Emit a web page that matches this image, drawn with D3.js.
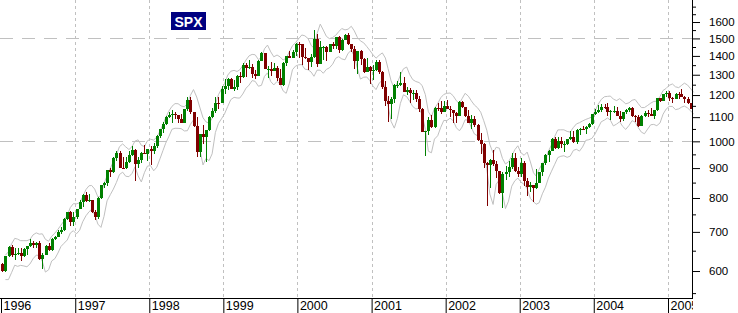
<!DOCTYPE html>
<html>
<head>
<meta charset="utf-8">
<script src="https://cdn.jsdelivr.net/npm/d3@7"></script>
<style>
  body { margin: 0; background: #fff; }
  svg { display: block; }
  text { font-family: Arial, "Liberation Sans", sans-serif; }
</style>
</head>
<body>
<div id="chart"></div>
<script>
// SPX, half-month bars (1st-15th, 16th-end), Jan 1996 .. Apr 2005
const opens = [
  616,599,636,660,640,641,645,637,654,662,669,665,671,630,640,662,652,681,687,701,705,737,757,728,
  741,766,786,811,791,793,757,743,801,841,848,893,885,936,954,901,899,923,947,966,914,928,955,953,
  970,961,980,1020,1049,1069,1102,1110,1112,1108,1091,1077,1134,1177,1121,1063,957,1029,1017,1047,1099,1125,1164,1162,
  1229,1243,1280,1230,1238,1294,1286,1349,1335,1338,1302,1294,1373,1418,1329,1330,1320,1336,1283,1248,1363,1397,1389,1421,
  1469,1465,1394,1388,1366,1392,1499,1357,1452,1452,1421,1466,1455,1509,1431,1491,1518,1466,1437,1374,1429,1383,1315,1340,
  1320,1326,1366,1316,1240,1173,1160,1183,1249,1249,1256,1215,1224,1208,1211,1182,1134,1039,1041,1089,1060,1142,1139,1124,
  1148,1138,1130,1116,1107,1166,1147,1103,1077,1091,1067,1007,990,918,912,930,916,889,815,881,886,905,936,890,
  880,919,856,834,841,833,848,885,917,946,964,1011,975,1000,990,990,1008,1019,996,1046,1051,1050,1058,1069,
  1112,1121,1131,1146,1145,1121,1126,1129,1107,1090,1121,1132,1141,1106,1102,1064,1104,1120,1115,1104,1130,1184,1174,1203,
  1212,1184,1181,1206,1204,1191,1181,1162
];
const highs = [
  620,637,661,664,657,656,657,656,663,680,674,673,676,644,666,670,683,690,706,714,738,758,761,757,
  767,794,812,818,814,795,764,803,842,852,894,899,940,961,961,939,941,961,983,970,942,960,986,972,
  980,995,1026,1051,1080,1106,1123,1130,1122,1110,1115,1138,1190,1191,1121,1101,1030,1066,1020,1106,1140,1193,1192,1245,
  1276,1283,1285,1272,1301,1316,1359,1360,1375,1356,1324,1377,1419,1418,1344,1365,1363,1345,1330,1365,1400,1430,1434,1474,
  1478,1465,1445,1390,1413,1553,1528,1482,1455,1455,1468,1480,1511,1517,1495,1525,1530,1470,1454,1430,1433,1389,1390,1344,
  1350,1375,1376,1320,1268,1197,1192,1253,1268,1316,1286,1240,1236,1222,1226,1194,1140,1041,1100,1110,1143,1163,1173,1173,
  1176,1148,1130,1124,1173,1173,1147,1130,1110,1107,1071,1035,994,923,932,965,925,891,885,907,925,954,954,903,
  935,926,864,852,842,896,885,919,950,965,1015,1016,1016,1016,1003,1011,1040,1040,1050,1054,1063,1063,1075,1112,
  1135,1155,1160,1158,1163,1130,1150,1147,1128,1123,1137,1146,1144,1110,1108,1110,1127,1130,1142,1132,1185,1188,1204,1217,
  1217,1190,1209,1213,1229,1196,1192,1163
];
const lows = [
  598,598,633,633,627,638,624,634,638,660,657,658,627,605,638,649,650,678,685,695,703,734,716,716,
  737,765,773,789,789,755,733,736,798,833,838,870,883,926,900,897,897,920,945,855,902,920,950,924,
  912,950,975,1015,1032,1067,1095,1076,1094,1074,1074,1076,1129,1114,1060,939,940,988,923,1040,1095,1117,1136,1161,
  1205,1225,1227,1219,1226,1258,1284,1289,1330,1282,1280,1291,1372,1328,1281,1294,1317,1268,1247,1244,1348,1386,1387,1400,
  1390,1350,1384,1325,1339,1390,1339,1357,1380,1374,1420,1440,1438,1415,1428,1488,1463,1420,1330,1305,1349,1308,1312,1254,
  1274,1318,1306,1228,1150,1081,1091,1163,1232,1245,1214,1200,1165,1178,1169,1124,1038,945,1026,1054,1054,1125,1114,1123,
  1136,1101,1074,1075,1106,1139,1102,1074,1048,1060,1000,952,900,775,833,907,866,813,769,860,868,897,887,870,
  870,840,806,820,789,830,847,874,911,922,962,972,972,976,960,985,1005,993,991,1026,1044,1031,1055,1066,
  1109,1118,1124,1137,1104,1087,1120,1107,1079,1082,1113,1124,1100,1078,1060,1064,1100,1101,1103,1090,1127,1168,1173,1193,
  1173,1163,1180,1180,1189,1164,1160,1137
];
const closes = [
  599,636,660,640,641,645,637,654,662,669,665,671,630,640,662,652,681,687,701,705,737,757,728,741,
  766,786,811,791,793,757,743,801,841,848,893,885,936,954,901,899,923,947,966,914,928,955,953,970,
  961,980,1020,1049,1069,1102,1110,1112,1108,1091,1077,1134,1177,1121,1063,957,1029,1017,1047,1099,1125,1164,1162,1229,
  1243,1280,1230,1238,1294,1286,1349,1335,1338,1302,1294,1373,1418,1329,1330,1320,1336,1283,1248,1363,1397,1389,1421,1469,
  1465,1394,1388,1366,1392,1499,1357,1452,1452,1421,1466,1455,1509,1431,1491,1518,1466,1437,1374,1429,1383,1315,1340,1320,
  1326,1366,1316,1240,1173,1160,1183,1249,1249,1256,1215,1224,1208,1211,1182,1134,1039,1041,1089,1060,1142,1139,1124,1148,
  1138,1130,1116,1107,1166,1147,1103,1077,1091,1067,1007,990,918,912,930,916,889,815,881,886,905,936,890,880,
  919,856,834,841,833,848,885,917,946,964,1011,975,1000,990,990,1008,1019,996,1046,1051,1050,1058,1069,1112,
  1121,1131,1146,1145,1121,1126,1129,1107,1090,1121,1132,1141,1106,1102,1064,1104,1120,1115,1104,1130,1184,1174,1203,1212,
  1184,1181,1206,1204,1191,1181,1162,1138
];

const years = [1996, 1997, 1998, 1999, 2000, 2001, 2002, 2003, 2004, 2005];
const priceLabels = [600, 700, 800, 900, 1000, 1100, 1200, 1300, 1400, 1500, 1600];
const minorTicks = [550, 650, 750, 850, 950, 1050, 1150, 1250, 1350, 1450, 1550, 1650, 1700];
const dashedLevels = [1000, 1500];
const title = "SPX";

const width = 738, height = 313;
const plotRight = 692, plotBottom = 298;

const svg = d3.select("#chart").append("svg")
    .attr("width", width)
    .attr("height", height);

const x = d3.scaleTime()
    .domain([new Date(1996, 0, 1), new Date(2005, 0, 1)])
    .range([1, 668]);

const y = d3.scaleLog()
    .domain([539.5, 1745])
    .range([plotBottom, 0]);

// bar centre: the middle of each half month
const bars = opens.map((o, i) => ({
    date: new Date(1996, Math.floor(i / 2), i % 2 ? 23 : 8),
    open: o, high: highs[i], low: lows[i], close: closes[i]
}));

// grid
svg.append("g").selectAll("line")
    .data(years.slice(1))
    .enter().append("line")
    .attr("x1", d => Math.round(x(new Date(d, 0, 1))) + 0.5)
    .attr("x2", d => Math.round(x(new Date(d, 0, 1))) + 0.5)
    .attr("y1", 0).attr("y2", plotBottom)
    .attr("stroke", "#c0c0c0")
    .attr("stroke-dasharray", "3,3");

svg.append("g").selectAll("line")
    .data(dashedLevels)
    .enter().append("line")
    .attr("x1", 0).attr("x2", plotRight)
    .attr("y1", d => Math.round(y(d)) + 0.5)
    .attr("y2", d => Math.round(y(d)) + 0.5)
    .attr("stroke", "#c0c0c0")
    .attr("stroke-dasharray", "13,9");

// envelope: 2-bar average of highs / lows, pushed out a little
const upper = bars.map((d, i) => ({ date: d.date, v: d3.mean(highs.slice(Math.max(0, i - 1), i + 1)) * 1.03 }));
const lower = bars.map((d, i) => ({ date: d.date, v: d3.mean(lows.slice(Math.max(0, i - 1), i + 1)) * 0.97 }));

const line = d3.line()
    .x(d => x(d.date) + 3)
    .y(d => y(d.v));

[upper, lower].forEach(s => {
    svg.append("path")
        .attr("d", line(s))
        .attr("fill", "none")
        .attr("stroke", "#c0c0c0")
        .attr("stroke-width", 1);
});

// candles
const candle = svg.append("g").selectAll("g")
    .data(bars)
    .enter().append("g")
    .attr("shape-rendering", "crispEdges");

const col = d => d.close >= d.open ? "#008000" : "#800000";

candle.append("line")
    .attr("x1", d => Math.round(x(d.date)) + 0.5)
    .attr("x2", d => Math.round(x(d.date)) + 0.5)
    .attr("y1", d => y(d.high))
    .attr("y2", d => y(d.low))
    .attr("stroke", col);

candle.append("rect")
    .attr("x", d => Math.round(x(d.date)) - 1)
    .attr("width", 3)
    .attr("y", d => y(Math.max(d.open, d.close)))
    .attr("height", d => Math.max(1, y(Math.min(d.open, d.close)) - y(Math.max(d.open, d.close))))
    .attr("fill", col);

// right axis
svg.append("line")
    .attr("x1", plotRight + 0.5).attr("x2", plotRight + 0.5)
    .attr("y1", 0).attr("y2", plotBottom + 1)
    .attr("stroke", "#000");

const yMinor = svg.append("g")
    .attr("transform", `translate(${plotRight},0)`)
    .call(d3.axisRight(y).tickValues(minorTicks).tickSize(4).tickFormat(""));
yMinor.select(".domain").remove();

const yMajor = svg.append("g")
    .attr("transform", `translate(${plotRight},0)`)
    .call(d3.axisRight(y).tickValues(priceLabels).tickSize(8).tickPadding(9).tickFormat(d3.format("d")));
yMajor.select(".domain").remove();
yMajor.selectAll("text")
    .style("font-size", "11.5px")
    .attr("fill", "#000");

// bottom axis
svg.append("line")
    .attr("x1", 0).attr("x2", plotRight + 1)
    .attr("y1", plotBottom + 0.5).attr("y2", plotBottom + 0.5)
    .attr("stroke", "#000");

const xAxis = svg.append("g")
    .attr("transform", `translate(0,${plotBottom})`)
    .call(d3.axisBottom(x)
        .tickValues(years.map(d => new Date(d, 0, 1)))
        .tickSize(16)
        .tickFormat(d3.timeFormat("%Y")));
xAxis.select(".domain").remove();
xAxis.selectAll("text")
    .attr("text-anchor", "start")
    .attr("x", 2)
    .attr("y", 3)
    .style("font-size", "12.5px")
    .attr("fill", "#000");

// title box
const tg = svg.append("g").attr("transform", "translate(171,12)");
tg.append("rect")
    .attr("width", 35).attr("height", 18)
    .attr("fill", "#000080");
tg.append("text")
    .attr("x", 17.5).attr("y", 14.5)
    .attr("text-anchor", "middle")
    .attr("fill", "#fff")
    .style("font-size", "14px")
    .style("font-weight", "bold")
    .text(title);

// the last year label is clipped at the right axis, like the original
svg.append("rect")
    .attr("x", plotRight + 1).attr("y", plotBottom + 1)
    .attr("width", width - plotRight).attr("height", height - plotBottom)
    .attr("fill", "#fff");
</script>
</body>
</html>
